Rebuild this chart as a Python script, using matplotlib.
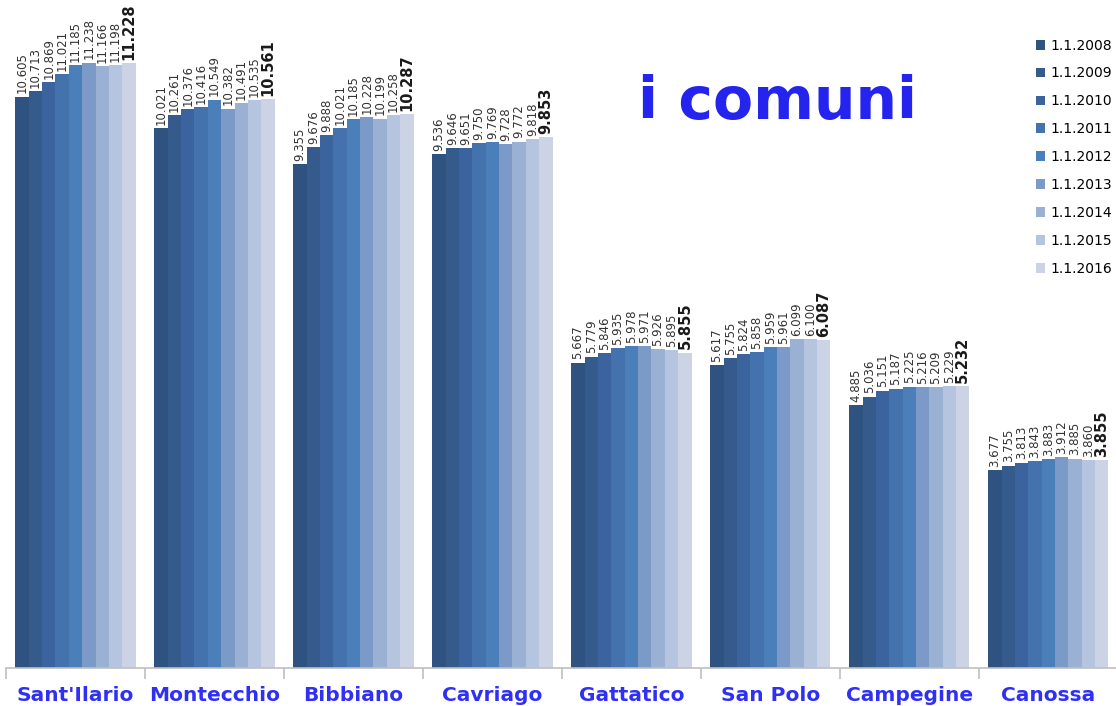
import matplotlib
matplotlib.use("Agg")
import matplotlib.pyplot as plt
import numpy as np
from matplotlib.patches import Patch

comuni = ["Sant'Ilario", "Montecchio", "Bibbiano", "Cavriago",
          "Gattatico", "San Polo", "Campegine", "Canossa"]
anni = ["1.1.2008", "1.1.2009", "1.1.2010", "1.1.2011", "1.1.2012",
        "1.1.2013", "1.1.2014", "1.1.2015", "1.1.2016"]

residenti = {
    "1.1.2008": [10605, 10021, 9355, 9536, 5667, 5617, 4885, 3677],
    "1.1.2009": [10713, 10261, 9676, 9646, 5779, 5755, 5036, 3755],
    "1.1.2010": [10869, 10376, 9888, 9651, 5846, 5824, 5151, 3813],
    "1.1.2011": [11021, 10416, 10021, 9750, 5935, 5858, 5187, 3843],
    "1.1.2012": [11185, 10549, 10185, 9769, 5978, 5959, 5225, 3883],
    "1.1.2013": [11238, 10382, 10228, 9728, 5971, 5961, 5216, 3912],
    "1.1.2014": [11166, 10491, 10199, 9772, 5926, 6099, 5209, 3885],
    "1.1.2015": [11198, 10535, 10258, 9818, 5895, 6100, 5229, 3860],
    "1.1.2016": [11228, 10561, 10287, 9853, 5855, 6087, 5232, 3855],
}

colori = ["#2F5380", "#345B8C", "#3B649E", "#4472AC", "#4A7FBA",
          "#7C9AC8", "#9AB1D3", "#B5C5DF", "#CBD3E4"]

fig = plt.figure(figsize=(11.16, 7.06), dpi=100)
ax = fig.add_axes([6 / 1116, 38 / 706, 1116 / 1116, 668 / 706])

n = len(anni)
gruppo = 0.865
w = gruppo / n
x = np.arange(len(comuni))

def fmt(v):
    return f"{v:,}".replace(",", ".")

for i, anno in enumerate(anni):
    pos = x - gruppo / 2 + w * (i + 0.5)
    ax.bar(pos, residenti[anno], width=w, color=colori[i], linewidth=0)
    ultimo = (i == n - 1)
    for px, v in zip(pos, residenti[anno]):
        ax.text(px, v + 60, fmt(v), rotation=90, ha="center", va="bottom",
                fontsize=10.5 if ultimo else 8.5,
                fontweight="bold" if ultimo else "normal",
                family=["Liberation Sans Narrow", "DejaVu Sans"],
                color="#1a1a1a" if ultimo else "#333333")

ax.set_xlim(-0.5, len(comuni) - 0.5 + 0.03)
ax.set_ylim(0, 12400)
ax.set_yticks([])
for s in ["top", "right", "left"]:
    ax.spines[s].set_visible(False)
ax.spines["bottom"].set_color("#BFBFBF")
ax.spines["bottom"].set_linewidth(1.2)

ax.set_xticks(x)
ax.set_xticklabels(comuni, fontsize=14.5, fontweight="bold", color="#3030F5")
ax.tick_params(axis="x", which="major", length=0, pad=13)
ax.set_xticks(np.arange(len(comuni) + 1) - 0.5, minor=True)
ax.tick_params(axis="x", which="minor", length=8, color="#BFBFBF", width=1.2)

fig.text(0.572, 0.855, "i comuni", fontsize=42, fontweight="bold",
         color="#2424EE", ha="left", va="center")

handles = [Patch(facecolor=c, edgecolor="none") for c in colori]
fig.legend(handles, anni, loc="upper left", bbox_to_anchor=(1030 / 1116, 1 - 33 / 706),
           frameon=False, fontsize=10, handlelength=0.7, handleheight=0.7,
           handletextpad=0.4, labelspacing=1.0, borderaxespad=0)

fig.savefig("out.png", dpi=100)
